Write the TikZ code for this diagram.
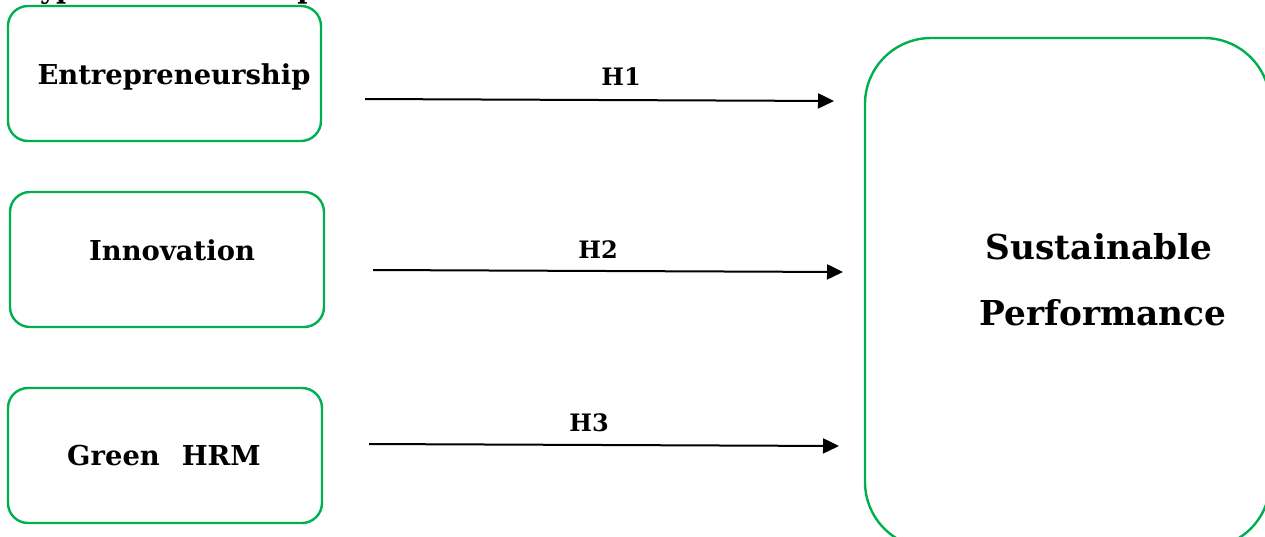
\documentclass[tikz,border=0pt]{standalone}
\usepackage{fontspec}
\setmainfont{DejaVu Serif}
\usetikzlibrary{arrows.meta}
\definecolor{boxgreen}{RGB}{0,176,80}
\begin{document}
\begin{tikzpicture}[x=1pt,y=-1pt,
  varbox/.style={draw=boxgreen, line width=2.4pt, rounded corners=20pt},
  bigbox/.style={draw=boxgreen, line width=2.4pt, rounded corners=66pt},
  lbl/.style={font=\fontsize{27.4}{32}\selectfont\bfseries, inner sep=0pt},
  biglbl/.style={font=\fontsize{34.3}{40}\selectfont\bfseries, inner sep=0pt},
  hlbl/.style={font=\fontsize{24}{28}\selectfont\bfseries, inner sep=0pt},
  link/.style={line width=2pt, -{Triangle[length=16pt,width=15pt]}}]
\useasboundingbox (0,0) rectangle (1265,536);
\begin{scope}
\clip (0,0) rectangle (1265,536);
\node[lbl, anchor=base west] (title) at (14,-2) {Hypothesis Development};
\draw[varbox] (8,6) rectangle (321,141);
\draw[varbox] (10,192) rectangle (324,327);
\draw[varbox] (8,388) rectangle (322,523);
\draw[bigbox] (865,38) rectangle (1270,548);
\end{scope}
\node[lbl] (ent) at (174,77) {Entrepreneurship};
\node[lbl] (inn) at (172,250) {Innovation};
\node[lbl] (ghrm) at (164,456) {Green\hspace{0.8em}HRM};
\node[biglbl] (sus) at (1099,247) {Sustainable};
\node[biglbl] (perf) at (1103,313) {Performance};
\coordinate (a1s) at (365,99);
\coordinate (a1e) at (834,101);
\coordinate (a2s) at (373,270);
\coordinate (a2e) at (843,272);
\coordinate (a3s) at (369,444);
\coordinate (a3e) at (839,446);
\draw[link] (a1s) -- (a1e);
\draw[link] (a2s) -- (a2e);
\draw[link] (a3s) -- (a3e);
\node[hlbl] (h1) at (621,77) {H1};
\node[hlbl] (h2) at (598,250) {H2};
\node[hlbl] (h3) at (589,423) {H3};
\end{tikzpicture}
\end{document}
